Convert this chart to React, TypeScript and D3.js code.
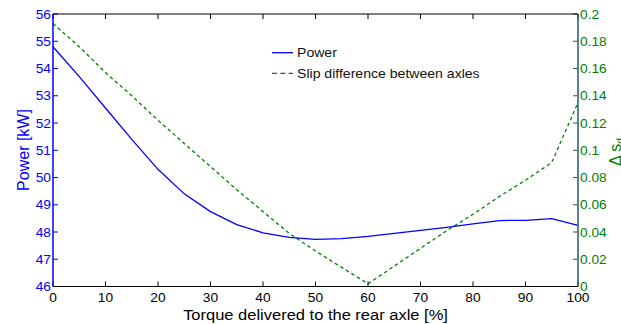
import React from "react";
import * as d3 from "d3";

const torque = [0, 5, 10, 15, 20, 25, 30, 35, 40, 45, 50, 55, 60, 65, 70, 75, 80, 85, 90, 95, 100];
const power = [54.8, 53.7, 52.55, 51.4, 50.3, 49.4, 48.75, 48.27, 47.97, 47.8, 47.73, 47.76, 47.84, 47.95, 48.06, 48.17, 48.3, 48.42, 48.43, 48.49, 48.24];
const slip = [0.193, 0.176, 0.157, 0.14, 0.122, 0.105, 0.088, 0.071, 0.055, 0.039, 0.026, 0.014, 0.002, 0.015, 0.028, 0.041, 0.053, 0.066, 0.078, 0.091, 0.135];
const xTicks = [0, 10, 20, 30, 40, 50, 60, 70, 80, 90, 100];
const powerTicks = [46, 47, 48, 49, 50, 51, 52, 53, 54, 55, 56];
const slipTicks = [0, 0.02, 0.04, 0.06, 0.08, 0.1, 0.12, 0.14, 0.16, 0.18, 0.2];
const xLabel = "Torque delivered to the rear axle [%]";
const yLabelLeft = "Power [kW]";
const legendLabels = ["Power", "Slip difference between axles"];

const FONT = "'Liberation Sans', Arial, Helvetica, sans-serif";
const BLUE = "#0000ff";
const GREEN = "#008000";
const RAXIS = "#1f5b73";
const SX = 1.1;
const TICKFS = 12.5;

export default function App() {
  const W = 621, H = 324;
  const L = 53, R = 578, T = 14, B = 286.5;
  const x = d3.scaleLinear().domain([0, 100]).range([L, R]);
  const yL = d3.scaleLinear().domain([46, 56]).range([B, T]);
  const yR = d3.scaleLinear().domain([0, 0.2]).range([B, T]);
  const lineP = d3.line<number>().x((_, i) => x(torque[i])).y((d) => yL(d));
  const lineS = d3.line<number>().x((_, i) => x(torque[i])).y((d) => yR(d));
  const tl = 5;
  const fmtS = (v: number) => String(+v.toFixed(2));

  return (
    <svg width={W} height={H} style={{ position: "fixed", left: 0, top: 0, background: "#fff" }} fontFamily={FONT}>
      <rect x={0} y={0} width={W} height={H} fill="#fff" />
      {/* data */}
      <path d={lineS(slip) || ""} fill="none" stroke={GREEN} strokeWidth={1.3} strokeDasharray="3.5,3" />
      <path d={lineP(power) || ""} fill="none" stroke={BLUE} strokeWidth={1.3} />

      {/* x ticks bottom & top */}
      {xTicks.map((t) => (
        <g key={"xt" + t}>
          <line x1={x(t)} x2={x(t)} y1={B} y2={B - tl} stroke="#000" strokeWidth={1} />
          <line x1={x(t)} x2={x(t)} y1={T} y2={T + tl} stroke="#000" strokeWidth={1} />
          <text transform={`translate(${x(t)},${302}) scale(${SX},1)`} textAnchor="middle" fontSize={TICKFS} fill="#000">{t}</text>
        </g>
      ))}
      {/* left ticks */}
      {powerTicks.map((t) => (
        <g key={"yl" + t}>
          <line x1={L} x2={L + tl} y1={yL(t)} y2={yL(t)} stroke={BLUE} strokeWidth={1} />
          <text transform={`translate(${51},${yL(t) + 4.5}) scale(${SX},1)`} textAnchor="end" fontSize={TICKFS} fill={BLUE}>{t}</text>
        </g>
      ))}
      {/* right ticks */}
      {slipTicks.map((t) => (
        <g key={"yr" + t}>
          <line x1={R} x2={R - tl} y1={yR(t)} y2={yR(t)} stroke={RAXIS} strokeWidth={1} />
          <text transform={`translate(${580},${yR(t) + 4.5}) scale(${SX},1)`} textAnchor="start" fontSize={TICKFS} fill={GREEN}>{fmtS(t)}</text>
        </g>
      ))}
      {/* axes frame */}
      <line x1={L} x2={R} y1={T} y2={T} stroke="#000" strokeWidth={1.2} />
      <line x1={L} x2={R} y1={B} y2={B} stroke="#000" strokeWidth={1.2} />
      <line x1={L} x2={L} y1={T} y2={B} stroke={BLUE} strokeWidth={1.5} />
      <line x1={R} x2={R} y1={T} y2={B} stroke={RAXIS} strokeWidth={1.5} />

      {/* axis labels */}
      <text transform={`translate(${(L + R) / 2},${320}) scale(${SX},1)`} textAnchor="middle" fontSize={15} fill="#000">{xLabel}</text>
      <text transform={`translate(${29},${150}) rotate(-90)`} textAnchor="middle" fontSize={16} fill={BLUE}>{yLabelLeft}</text>
      <text transform={`translate(${621},${152}) rotate(-90)`} textAnchor="middle" fontSize={16} fill={GREEN}>
        Δ s<tspan fontSize={10} dy={3}>d</tspan>
      </text>

      {/* legend */}
      <line x1={272} x2={293} y1={52.7} y2={52.7} stroke={BLUE} strokeWidth={1.3} />
      <line x1={272} x2={293} y1={73.3} y2={73.3} stroke={GREEN} strokeWidth={1.3} strokeDasharray="5,3.3" />
      <text transform={`translate(${297},${57.2}) scale(${SX},1)`} fontSize={TICKFS + 0.3} fill="#111">{legendLabels[0]}</text>
      <text transform={`translate(${297},${77.8}) scale(${SX},1)`} fontSize={TICKFS + 0.3} fill="#111">{legendLabels[1]}</text>
    </svg>
  );
}
